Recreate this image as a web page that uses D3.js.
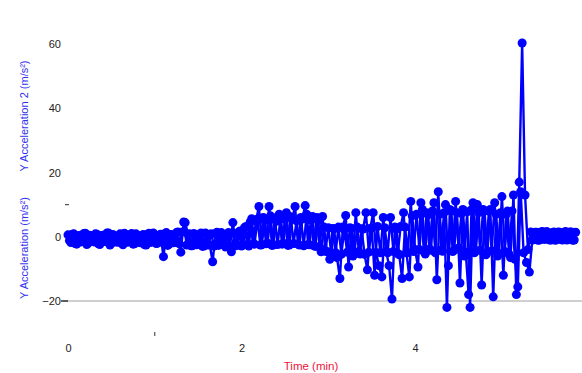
<!DOCTYPE html>
<html>
<head>
<meta charset="utf-8">
<script src="https://cdn.jsdelivr.net/npm/d3@7"></script>
<style>
  html, body { margin: 0; padding: 0; background: #fff; }
  svg { display: block; }
  text { font-family: "Liberation Sans", Arial, sans-serif; }
</style>
</head>
<body>
<svg id="chart" width="582" height="373"></svg>
<script>
// Y Acceleration (m/s²), one reading every 2 s starting at 0 s
const accelY = [
  0.6,-1.8,0.9,-2.3,0.4,-1.2,1.1,-2.0,0.2,-1.6,
  0.8,-2.4,0.5,-1.4,1.2,-2.1,0.3,-1.7,0.9,-2.5,
  0.6,-1.3,1.0,-2.2,0.4,-1.9,0.7,-2.6,1.1,-1.5,
  0.5,-2.0,0.8,-6.2,1.3,-2.3,0.6,-1.8,1.5,-4.8,
  4.6,-2.6,0.9,-2.8,0.6,-2.4,1.2,-2.9,0.8,-2.5,
  -7.8,1.0,-2.7,1.3,-2.6,0.9,-3.0,4.4,-2.8,1.5,
  -2.9,2.8,-2.4,4.6,-2.2,5.0,9.4,-2.5,5.2,-2.0,
  6.5,-2.6,4.8,7.0,-2.3,5.4,-2.7,6.2,-2.1,5.0,
  -2.6,5.5,9.7,-2.4,5.2,-2.8,6.0,-3.2,6.3,-4.5,
  2.8,-5.0,2.5,-6.5,-13.0,3.0,6.6,-9.4,2.6,-5.2,
  3.0,-5.4,2.4,7.5,-4.8,2.8,-12.0,3.2,-5.0,6.0,
  -4.6,-9.0,-19.4,3.0,-5.2,3.2,7.5,-5.0,-12.5,6.5,
  -4.0,-9.4,10.6,-4.5,7.5,-3.8,8.0,-5.0,14.0,-4.2,
  7.5,-22.0,8.5,-4.6,11.0,-3.5,7.2,-6.0,7.8,-22.0,
  10.6,-4.4,7.5,-15.0,8.0,-4.8,8.5,-18.7,7.0,-5.2,
  12.5,-4.6,8.0,-6.5,13.0,-18.0,17.0,60.3,13.0,-4.0,
  1.5,-0.9,1.4,-1.0,1.6,-0.8,1.3,-1.0,1.5,-0.9,
  1.4,-1.0,1.6,-0.8,1.5,-1.0
];

// Y Acceleration 2 (m/s²), one reading every 2 s starting at 1 s
const accelY2 = [
  -1.2,0.8,-2.1,0.3,-1.6,1.0,-2.4,0.5,-1.0,0.9,
  -2.2,0.4,-1.5,1.2,-2.6,0.7,-1.3,0.2,-2.0,1.1,
  -1.7,0.6,-2.3,0.9,-1.1,0.4,-2.5,0.8,-1.8,1.2,
  -2.1,0.5,-1.4,1.0,-2.7,0.7,-1.9,1.3,-2.2,1.5,
  4.4,0.8,-2.8,1.0,-2.5,0.7,-3.0,1.2,-2.6,0.9,
  -2.9,1.4,-2.5,0.8,-3.2,1.3,-4.7,1.0,-2.6,1.8,
  -2.4,3.2,-2.9,5.6,-2.3,5.5,-2.6,6.0,-2.2,9.4,
  -2.7,5.8,-2.4,6.5,-2.0,7.5,-2.6,5.6,9.4,-2.3,
  6.0,-2.8,7.0,-2.5,6.3,-3.0,5.0,-4.7,3.0,-4.6,
  -7.0,2.6,-5.0,3.0,-5.5,2.2,-4.8,2.8,-6.0,7.5,
  -4.6,2.5,-5.5,-10.3,2.6,7.5,-4.9,-9.0,-12.5,2.8,
  -5.0,6.0,-4.6,2.4,-5.6,-13.0,3.0,-5.0,11.0,-4.6,
  7.0,-4.0,8.5,-5.4,6.8,-4.2,10.6,-13.4,7.0,-4.5,
  10.0,-9.0,8.0,-4.2,7.5,-14.4,8.5,-4.8,-18.0,8.4,
  -5.0,10.0,-4.2,8.5,-5.6,8.0,-4.4,10.6,-6.0,7.5,
  -12.0,7.0,-5.5,8.0,-7.0,-15.6,14.0,-5.0,-8.0,-11.0,
  -1.0,1.4,-1.1,1.5,-0.8,1.6,-1.0,1.3,-1.1,1.5,
  -0.9,1.4,-1.0,1.5,-1.1,1.4
];

const sampleStepSec = 2;
const seriesOffsetSec = [0, 1];
const xTickLabels = [0, 2, 4];
const xMinorTicks = [1];
const yTickLabels = [-20, 0, 20, 40, 60];
const yMinorTicks = [10];
const xTitle = "Time (min)";
const yTitles = ["Y Acceleration (m/s²)", "Y Acceleration 2 (m/s²)"];

const svg = d3.select("#chart");
const x = d3.scaleLinear().domain([0, 5.9]).range([68, 580]);
const y = d3.scaleLinear().domain([-20, 60]).range([301, 44]);

const toPoints = (vals, off) => vals.map((v, i) => ({ t: (i * sampleStepSec + off) / 60, v }));
const series = [toPoints(accelY2, seriesOffsetSec[1]), toPoints(accelY, seriesOffsetSec[0])];

// gray baseline along the bottom of the value range
svg.append("line")
  .attr("x1", x(0) - 5).attr("x2", x.range()[1] + 2)
  .attr("y1", y(-20)).attr("y2", y(-20))
  .attr("stroke", "#cfcfcf").attr("stroke-width", 2);
svg.append("line")
  .attr("x1", x(0) - 7).attr("x2", x(0))
  .attr("y1", y(-20)).attr("y2", y(-20))
  .attr("stroke", "#333").attr("stroke-width", 1.5);

// y axis labels
const yAxis = svg.append("g").attr("transform", `translate(${x(0)},0)`)
  .call(d3.axisLeft(y).tickValues(yTickLabels).tickSize(0).tickPadding(7));
yAxis.select(".domain").remove();
yAxis.selectAll("text").attr("font-size", 11).attr("fill", "#222")
  .attr("font-family", "Liberation Sans, Arial, sans-serif");

svg.selectAll(".yminor").data(yMinorTicks).enter().append("line")
  .attr("x1", x(0) - 3).attr("x2", x(0) + 1)
  .attr("y1", d => y(d)).attr("y2", d => y(d))
  .attr("stroke", "#555").attr("stroke-width", 1.2);

// x axis labels
const xAxis = svg.append("g").attr("transform", "translate(0,343)")
  .call(d3.axisBottom(x).tickValues(xTickLabels).tickFormat(d3.format("d"))
    .tickSize(0).tickPadding(1));
xAxis.select(".domain").remove();
xAxis.selectAll("text").attr("font-size", 11).attr("fill", "#222")
  .attr("font-family", "Liberation Sans, Arial, sans-serif");

svg.selectAll(".xminor").data(xMinorTicks).enter().append("line")
  .attr("x1", d => x(d)).attr("x2", d => x(d))
  .attr("y1", 332).attr("y2", 336)
  .attr("stroke", "#333").attr("stroke-width", 1);

// axis titles
svg.append("text").attr("x", 311).attr("y", 370).attr("text-anchor", "middle")
  .attr("font-size", 11.5).attr("fill", "#f0143c").text(xTitle);

const titleCenters = [248, 116];
yTitles.forEach((t, k) => {
  svg.append("text")
    .attr("transform", `translate(28,${titleCenters[k]}) rotate(-90)`)
    .attr("text-anchor", "middle").attr("font-size", 11)
    .attr("fill", "#3030f0").text(t);
});

// data lines and markers
const line = d3.line().x(d => x(d.t)).y(d => y(d.v));
const sym = d3.symbol().type(d3.symbolCircle).size(64);
series.forEach(pts => {
  svg.append("path").datum(pts)
    .attr("d", line).attr("fill", "none")
    .attr("stroke", "#0000ff").attr("stroke-width", 2.4);
  svg.append("g").selectAll("path").data(pts).enter().append("path")
    .attr("d", sym)
    .attr("transform", d => `translate(${x(d.t)},${y(d.v)})`)
    .attr("fill", "#0000ff");
});
</script>
</body>
</html>
